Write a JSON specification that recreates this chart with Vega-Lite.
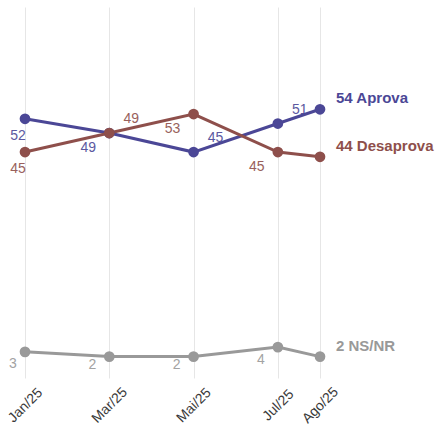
{
  "$schema": "https://vega.github.io/schema/vega-lite/v6.json",
  "autosize": "none",
  "width": 295,
  "height": 371,
  "padding": {"left": 25, "top": 7, "right": 117, "bottom": 47},
  "background": "white",
  "config": {"view": {"stroke": null}, "font": "Liberation Sans"},
  "data": {"values": [
    {"m": 1, "series": "Aprova", "v": 52},
    {"m": 3, "series": "Aprova", "v": 49},
    {"m": 5, "series": "Aprova", "v": 45},
    {"m": 7, "series": "Aprova", "v": 51},
    {"m": 8, "series": "Aprova", "v": 54},
    {"m": 1, "series": "Desaprova", "v": 45},
    {"m": 3, "series": "Desaprova", "v": 49},
    {"m": 5, "series": "Desaprova", "v": 53},
    {"m": 7, "series": "Desaprova", "v": 45},
    {"m": 8, "series": "Desaprova", "v": 44},
    {"m": 1, "series": "NS/NR", "v": 3},
    {"m": 3, "series": "NS/NR", "v": 2},
    {"m": 5, "series": "NS/NR", "v": 2},
    {"m": 7, "series": "NS/NR", "v": 4},
    {"m": 8, "series": "NS/NR", "v": 2}
  ]},
  "encoding": {
    "x": {"field": "m", "type": "quantitative",
      "scale": {"domain": [1, 8], "nice": false, "zero": false},
      "axis": {"title": null, "values": [1, 3, 5, 7, 8], "domain": false, "ticks": false,
        "grid": true, "gridColor": "#e6e6e6", "gridWidth": 1,
        "labelAngle": -45, "labelAlign": "center", "labelBaseline": "middle", "labelPadding": 27,
        "labelFontSize": 14, "labelColor": "#3a3a3a", "labelFont": "Liberation Sans",
        "labelExpr": "['','Jan/25','','Mar/25','','Mai/25','','Jul/25','Ago/25'][datum.value]"}},
    "y": {"field": "v", "type": "quantitative",
      "scale": {"domain": [-2.5, 75.5], "nice": false, "zero": false},
      "axis": null},
    "color": {"field": "series", "type": "nominal",
      "scale": {"domain": ["Aprova", "Desaprova", "NS/NR"], "range": ["#4b4796", "#8e4f4b", "#999999"]},
      "legend": null}
  },
  "layer": [
    {"mark": {"type": "line", "strokeWidth": 3}},
    {"mark": {"type": "circle", "size": 115, "opacity": 1}},
    {"transform": [{"filter": "datum.m == 8"}, {"calculate": "datum.v + ' ' + datum.series", "as": "endLabel"}],
     "mark": {"type": "text", "align": "left", "baseline": "middle", "dx": 16, "dy": -11, "fontSize": 15, "fontWeight": "bold"},
     "encoding": {"text": {"field": "endLabel"}}},
    {"transform": [{"filter": "datum.m == 1 && datum.series != 'NS/NR'"}],
     "mark": {"type": "text", "align": "center", "baseline": "middle", "dx": -7, "dy": 17, "fontSize": 14, "opacity": 0.9},
     "encoding": {"text": {"field": "v"}}},
    {"transform": [{"filter": "(datum.series == 'Aprova' && datum.m == 3) || (datum.series == 'Desaprova' && (datum.m == 5 || datum.m == 7))"}],
     "mark": {"type": "text", "align": "center", "baseline": "middle", "dx": -21, "dy": 15, "fontSize": 14, "opacity": 0.9},
     "encoding": {"text": {"field": "v"}}},
    {"transform": [{"filter": "(datum.series == 'Aprova' && (datum.m == 5 || datum.m == 7)) || (datum.series == 'Desaprova' && datum.m == 3)"}],
     "mark": {"type": "text", "align": "center", "baseline": "middle", "dx": 22, "dy": -14, "fontSize": 14, "opacity": 0.9},
     "encoding": {"text": {"field": "v"}}},
    {"transform": [{"filter": "datum.series == 'NS/NR' && datum.m == 1"}],
     "mark": {"type": "text", "align": "center", "baseline": "middle", "dx": -12, "dy": 12, "fontSize": 14, "opacity": 0.9},
     "encoding": {"text": {"field": "v"}}},
    {"transform": [{"filter": "datum.series == 'NS/NR' && (datum.m == 3 || datum.m == 5)"}],
     "mark": {"type": "text", "align": "center", "baseline": "middle", "dx": -17, "dy": 8, "fontSize": 14, "opacity": 0.9},
     "encoding": {"text": {"field": "v"}}},
    {"transform": [{"filter": "datum.series == 'NS/NR' && datum.m == 7"}],
     "mark": {"type": "text", "align": "center", "baseline": "middle", "dx": -17, "dy": 13, "fontSize": 14, "opacity": 0.9},
     "encoding": {"text": {"field": "v"}}}
  ]
}
